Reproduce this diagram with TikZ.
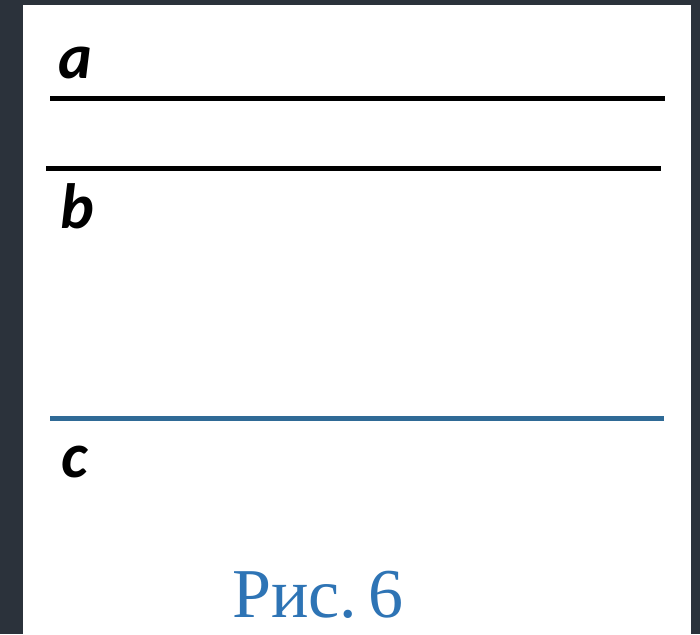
\documentclass[tikz,border=0pt]{standalone}
\usepackage{fontspec}
\setmainfont{Carlito}
\newfontfamily\capfont{Liberation Serif}
\usepackage{xcolor}
\definecolor{frame}{HTML}{2B323B}
\definecolor{lineblue}{HTML}{2F6A96}
\definecolor{capblue}{HTML}{2E74B5}
\usetikzlibrary{positioning}

\begin{document}
\begin{tikzpicture}[x=1pt,y=-1pt,
  ln/.style={line width=5pt,black},
  lbl/.style={font=\fontsize{64}{64}\selectfont\bfseries\itshape,inner sep=0pt},
  figcap/.style={font=\capfont\fontsize{70}{70}\selectfont,text=capblue,inner sep=0pt}]
  \fill[frame] (0,0) rectangle (700,634);
  \fill[white] (23,5) rectangle (691,634);
  \useasboundingbox (0,0) rectangle (700,634);
  % the three lines
  \coordinate (a1) at (50,98);  \coordinate (a2) at (665,98);
  \coordinate (b1) at (46,168); \coordinate (b2) at (661,168);
  \coordinate (c1) at (50,418); \coordinate (c2) at (664,418);
  \draw[ln] (a1)--(a2);
  \draw[ln] (b1)--(b2);
  \draw[ln,lineblue] (c1)--(c2);
  \node[lbl,anchor=base] (la) at (75,78) {a};
  \node[lbl,anchor=base] (lb) at (77,228) {b};
  \node[lbl,anchor=base] (lc) at (75,477) {c};
  \node[figcap,anchor=base] (fig) at (318,617) {Рис.\kern0.16em6};
\end{tikzpicture}
\end{document}
